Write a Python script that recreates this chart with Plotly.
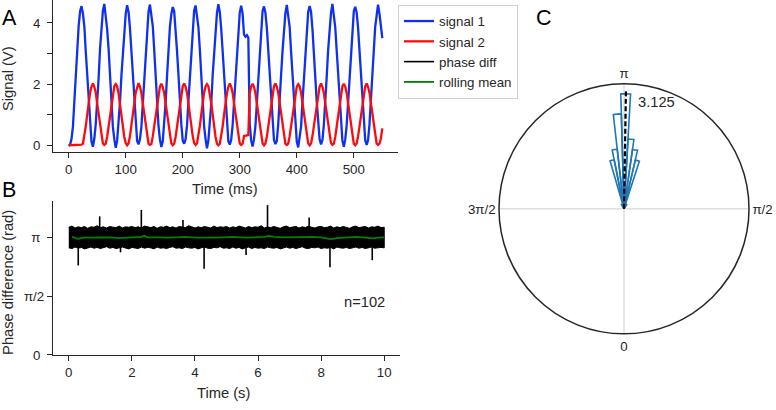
import numpy as np
import plotly.graph_objects as go

# ---------------- Panel A data ----------------
t_ms = np.arange(0, 550.1, 2.5)
signal1 = [-0.02,
    0.02, 0.21, 0.62, 1.45, 2.30, 3.05, 3.90, 4.38, 4.55, 4.30, 3.88, 3.05, 2.30, 1.35, 0.70, 0.12,
    -0.05, 0.22, 0.70, 1.33, 2.20, 3.16, 3.80, 4.40, 4.62, 4.28, 3.79, 3.15, 2.20, 1.44, 0.60, 0.20,
    -0.08, 0.15, 0.68, 1.42, 2.28, 3.08, 3.87, 4.30, 4.58, 4.36, 3.82, 3.07, 2.28, 1.37, 0.71, 0.14,
    0.03, 0.20, 0.60, 1.36, 2.21, 3.14, 3.79, 4.37, 4.60, 4.31, 3.90, 3.12, 2.19, 1.43, 0.63, 0.19,
    -0.06, 0.13, 0.71, 1.40, 2.27, 3.09, 3.86, 4.29, 4.52, 4.38, 3.80, 3.08, 2.31, 1.34, 0.69, 0.16,
    0.05, 0.19, 0.64, 1.44, 2.22, 3.15, 3.83, 4.40, 4.57, 4.27, 3.86, 3.14, 2.20, 1.41, 0.62, 0.21,
    -0.10, 0.16, 0.69, 1.35, 2.29, 3.06, 3.88, 4.32, 4.61, 4.35, 3.81, 3.10, 2.26, 1.38, 0.70, 0.13,
    0.02, 0.18, 0.66, 1.39, 2.24, 3.12, 3.85, 4.34, 4.56, 4.30, 3.62, 3.55, 3.60, 3.52, 0.70, 0.15,
    -0.04, 0.20, 0.63, 1.43, 2.26, 3.10, 3.80, 4.39, 4.54, 4.33, 3.84, 3.11, 2.23, 1.40, 0.64, 0.18,
    0.04, 0.14, 0.70, 1.37, 2.30, 3.07, 3.89, 4.31, 4.59, 4.29, 3.87, 3.06, 2.27, 1.36, 0.68, 0.12,
    -0.07, 0.22, 0.61, 1.41, 2.20, 3.13, 3.82, 4.36, 4.55, 4.37, 3.80, 3.13, 2.21, 1.42, 0.61, 0.20,
    0.03, 0.17, 0.67, 1.34, 2.25, 3.11, 3.86, 4.33, 4.62, 4.26, 3.85, 3.09, 2.29, 1.39, 0.66, 0.15,
    -0.05, 0.19, 0.65, 1.40, 2.23, 3.12, 3.84, 4.38, 4.53, 4.34, 3.83, 3.10, 2.24, 1.37, 0.70, 0.17,
    0.01, 0.16, 0.69, 1.38, 2.27, 3.08, 3.87, 4.35, 4.60, 4.30, 3.80, 3.50]
signal2 = [0.00, 0.00, 0.01, 0.00, 0.00, 0.01, 0.00, 0.00, 0.01, 0.02,
    0.05, 0.29, 0.62, 1.00, 1.38, 1.71, 1.92,
    2.02, 1.91, 1.72, 1.36, 1.01, 0.60, 0.30, 0.06, 0.01, 0.05, 0.28, 0.63, 0.99, 1.39, 1.70, 1.93,
    2.00, 1.93, 1.69, 1.39, 0.98, 0.63, 0.27, 0.07, 0.00, 0.06, 0.30, 0.61, 1.02, 1.36, 1.72, 1.91,
    2.03, 1.92, 1.71, 1.37, 1.00, 0.61, 0.29, 0.05, 0.01, 0.04, 0.29, 0.62, 1.00, 1.38, 1.71, 1.92,
    2.01, 1.90, 1.70, 1.38, 1.02, 0.62, 0.28, 0.06, 0.00, 0.05, 0.27, 0.60, 0.98, 1.37, 1.69, 1.93,
    2.02, 1.92, 1.72, 1.36, 0.99, 0.60, 0.30, 0.07, 0.01, 0.06, 0.30, 0.63, 1.01, 1.39, 1.72, 1.92,
    2.00, 1.93, 1.70, 1.38, 1.01, 0.62, 0.28, 0.05, 0.00, 0.05, 0.29, 0.61, 1.00, 1.37, 1.70, 1.91,
    2.02, 1.92, 1.71, 1.37, 1.00, 0.61, 0.29, 0.06, 0.01, 0.05, 0.30, 0.31, 0.32, 0.33, 1.71, 1.92,
    2.01, 1.91, 1.70, 1.38, 1.00, 0.62, 0.29, 0.06, 0.00, 0.06, 0.28, 0.62, 1.01, 1.37, 1.71, 1.93,
    2.02, 1.92, 1.71, 1.37, 0.99, 0.61, 0.30, 0.05, 0.01, 0.05, 0.29, 0.61, 0.99, 1.38, 1.70, 1.92,
    2.00, 1.93, 1.72, 1.38, 1.01, 0.62, 0.28, 0.06, 0.00, 0.06, 0.30, 0.62, 1.00, 1.39, 1.71, 1.91,
    2.02, 1.91, 1.70, 1.36, 1.00, 0.60, 0.29, 0.07, 0.01, 0.05, 0.28, 0.61, 1.01, 1.37, 1.72, 1.93,
    2.01, 1.92, 1.71, 1.38, 0.99, 0.62, 0.30, 0.05, 0.00, 0.06, 0.29, 0.62, 1.00, 1.38, 1.70, 1.92,
    2.02, 1.91, 1.71, 1.37, 1.00, 0.61, 0.29, 0.06, 0.01, 0.05, 0.22, 0.55]
a_xticks = [0, 100, 200, 300, 400, 500]
a_yticks = [0, 1, 2, 3, 4]
a_yticktext = ["0\u00a0", "", "2\u00a0", "", "4\u00a0"]

# ---------------- Panel B data ----------------
band_t = np.round(np.arange(0, 10.001, 0.1), 2)
band_hi = [3.41, 3.44, 3.39, 3.42, 3.40, 3.43, 3.38, 3.42, 3.41, 3.45,
           3.40, 3.42, 3.39, 3.43, 3.41, 3.40, 3.44, 3.39, 3.42, 3.41,
           3.43, 3.40, 3.42, 3.39, 3.44, 3.41, 3.40, 3.43, 3.38, 3.42,
           3.41, 3.44, 3.40, 3.42, 3.39, 3.43, 3.41, 3.40, 3.45, 3.41,
           3.39, 3.42, 3.40, 3.43, 3.41, 3.39, 3.44, 3.40, 3.42, 3.41,
           3.43, 3.39, 3.42, 3.40, 3.44, 3.41, 3.39, 3.43, 3.40, 3.42,
           3.41, 3.45, 3.39, 3.42, 3.40, 3.43, 3.41, 3.38, 3.42, 3.44,
           3.40, 3.41, 3.43, 3.39, 3.42, 3.40, 3.44, 3.41, 3.39, 3.42,
           3.43, 3.40, 3.41, 3.44, 3.39, 3.42, 3.40, 3.43, 3.41, 3.38,
           3.42, 3.44, 3.40, 3.41, 3.43, 3.39, 3.42, 3.41, 3.44, 3.40,
           3.41]
band_lo = [2.86, 2.84, 2.88, 2.85, 2.87, 2.83, 2.86, 2.88, 2.85, 2.87,
           2.84, 2.86, 2.89, 2.85, 2.87, 2.84, 2.86, 2.88, 2.85, 2.83,
           2.87, 2.86, 2.84, 2.88, 2.85, 2.87, 2.86, 2.83, 2.88, 2.85,
           2.86, 2.84, 2.87, 2.89, 2.85, 2.86, 2.84, 2.88, 2.86, 2.85,
           2.87, 2.83, 2.86, 2.88, 2.85, 2.84, 2.87, 2.86, 2.89, 2.85,
           2.86, 2.84, 2.88, 2.85, 2.87, 2.83, 2.86, 2.88, 2.84, 2.87,
           2.85, 2.86, 2.84, 2.88, 2.86, 2.85, 2.87, 2.83, 2.86, 2.88,
           2.85, 2.87, 2.84, 2.86, 2.89, 2.85, 2.84, 2.87, 2.86, 2.88,
           2.84, 2.86, 2.85, 2.87, 2.83, 2.88, 2.86, 2.85, 2.87, 2.84,
           2.86, 2.88, 2.85, 2.87, 2.84, 2.86, 2.88, 2.85, 2.86, 2.87,
           2.86]
spike_t = [0.30, 0.98, 1.64, 2.30, 3.62, 4.29, 5.62, 6.30, 7.62, 8.28, 9.62]
spike_v = [2.39, 3.70, 2.74, 3.87, 3.60, 2.30, 2.67, 4.00, 3.67, 2.34, 2.53]
mean_t = [0.1, 0.3, 0.5, 0.8, 1.0, 1.3, 1.6, 1.9, 2.3, 2.4, 2.5, 2.8, 3.1, 3.4, 3.7, 4.0, 4.3,
          4.6, 4.9, 5.2, 5.6, 5.9, 6.2, 6.35, 6.5, 6.8, 7.1, 7.4, 7.7, 8.0, 8.3, 8.5, 8.8,
          9.1, 9.4, 9.65, 9.8, 10.0]
mean_v = [3.15, 3.10, 3.13, 3.14, 3.15, 3.14, 3.12, 3.14, 3.15, 3.18, 3.14, 3.14, 3.13, 3.14,
          3.15, 3.13, 3.12, 3.13, 3.14, 3.15, 3.13, 3.14, 3.15, 3.18, 3.15, 3.14, 3.15, 3.14,
          3.15, 3.14, 3.09, 3.12, 3.14, 3.15, 3.13, 3.11, 3.13, 3.14]
b_xticks = [0, 2, 4, 6, 8, 10]
b_yticks = [0, np.pi / 2, np.pi]
b_yticktext = ["0\u00a0", "\u03c0/2", "\u03c0\u00a0"]
n_label = "n=102"

# ---------------- Panel C data ----------------
rose_theta = [2.617, 2.872, 2.957, 3.042, 3.127, 3.212, 3.297, 3.382, 3.637]   # bin centres (rad)
rose_count = [1, 10, 12, 14, 23, 19, 12, 10, 1]
rose_width = 0.085  # rad
mean_phase = 3.125
c_ticks_deg = [0, 90, 180, 270]
c_ticktext = ["0", "\u03c0/2", "\u03c0", "3\u03c0/2"]
r_max = 25

# ---------------- figure ----------------
W, H = 776, 410
FONT = "Liberation Sans, Arial, sans-serif"
INK = "#262626"

def px(x):
    return x / W

def py(y):
    return 1 - y / H

fig = go.Figure()

fig.add_trace(go.Scatter(x=t_ms, y=signal1, mode="lines", name="signal 1",
                         line=dict(color="#1030f0", width=2.3), xaxis="x", yaxis="y"))
fig.add_trace(go.Scatter(x=t_ms, y=signal2, mode="lines", name="signal 2",
                         line=dict(color="#ff0a0a", width=2.3), xaxis="x", yaxis="y"))

# phase diff band
poly_x = np.concatenate([band_t, band_t[::-1]])
poly_y = np.concatenate([band_hi, band_lo[::-1]])
fig.add_trace(go.Scatter(x=poly_x, y=poly_y, mode="lines", fill="toself", fillcolor="black",
                         line=dict(color="black", width=1), showlegend=False,
                         xaxis="x2", yaxis="y2", hoverinfo="skip"))
sx, sy = [], []
for t, v in zip(spike_t, spike_v):
    sx += [t, t, None]
    sy += [np.pi, v, None]
fig.add_trace(go.Scatter(x=sx, y=sy, mode="lines", name="phase diff",
                         line=dict(color="black", width=1.6), xaxis="x2", yaxis="y2"))
fig.add_trace(go.Scatter(x=mean_t, y=mean_v, mode="lines", name="rolling mean",
                         line=dict(color="#008000", width=1.8), xaxis="x2", yaxis="y2"))

# rose
fig.add_trace(go.Barpolar(theta=np.degrees(rose_theta), r=rose_count,
                          width=[np.degrees(rose_width)] * len(rose_count),
                          marker=dict(color="rgba(0,0,0,0)", line=dict(color="#1f77b4", width=1.6)),
                          showlegend=False, subplot="polar"))
fig.add_trace(go.Scatterpolar(theta=[np.degrees(mean_phase)] * 2, r=[0, 0.95 * r_max],
                              mode="lines", line=dict(color="black", width=2.2, dash="5px,2.5px"),
                              showlegend=False, subplot="polar"))

axis_common = dict(showline=True, linecolor=INK, linewidth=1.3, ticks="outside", ticklen=5,
                   tickwidth=1.2, tickcolor=INK, showgrid=False, zeroline=False,
                   tickfont=dict(family=FONT, size=13.3, color=INK))

fig.update_layout(
    width=W, height=H, margin=dict(l=0, r=0, t=0, b=0),
    paper_bgcolor="white", plot_bgcolor="white",
    font=dict(family=FONT, size=13.3, color=INK),
    xaxis=dict(domain=[px(53), px(398)], range=[-27.5, 577.5], tickvals=a_xticks,
               anchor="y", **axis_common),
    yaxis=dict(domain=[py(155), py(0)], range=[-0.22, 4.75], tickvals=a_yticks,
               ticktext=a_yticktext, anchor="x", **axis_common),
    xaxis2=dict(domain=[px(53), px(400)], range=[-0.5, 10.5], tickvals=b_xticks,
                anchor="y2", **axis_common),
    yaxis2=dict(domain=[py(362), py(205)], range=[0, 4.11], tickvals=b_yticks,
                ticktext=b_yticktext, anchor="x2", **axis_common),
    polar=dict(
        domain=dict(x=[px(496.5), px(751.5)], y=[py(340.5), py(85.5)]),
        bgcolor="white",
        radialaxis=dict(range=[0, r_max], showticklabels=False, ticks="", showgrid=False,
                        showline=False),
        angularaxis=dict(rotation=270, direction="counterclockwise", tickmode="array",
                         tickvals=c_ticks_deg, ticktext=c_ticktext, ticks="",
                         showline=True, linecolor=INK, linewidth=1.5,
                         showgrid=True, gridcolor="#cfcfcf", gridwidth=1,
                         tickfont=dict(family=FONT, size=13.3, color=INK)),
    ),
    legend=dict(x=px(398), y=py(5), xanchor="left", yanchor="top", bgcolor="white",
                bordercolor="#d0d0d0", borderwidth=1, font=dict(family=FONT, size=13.3, color=INK),
                itemwidth=30, tracegroupgap=0),
    showlegend=True,
)

ann = []
def label(text, x, y, size=14.7, angle=0, xanchor="center"):
    ann.append(dict(text=text, x=px(x), y=py(y), xref="paper", yref="paper", showarrow=False,
                    xanchor=xanchor, yanchor="middle", textangle=angle,
                    font=dict(family=FONT, size=size, color=INK if size < 20 else "black")))

label("Time (ms)", 225, 193)
label("Signal (V)", 8.5, 80, angle=-90)
label("Time (s)", 224, 401)
label("Phase difference (rad)", 8.5, 288, angle=-90)
label(n_label, 387, 307.5, xanchor="right")
label("3.125", 636, 104, xanchor="left")
label("A", 9, 18, size=21.5)
label("B", 9, 194, size=21.5)
label("C", 543.5, 18, size=21.5)
fig.update_layout(annotations=ann)

fig.write_html("out.html")
